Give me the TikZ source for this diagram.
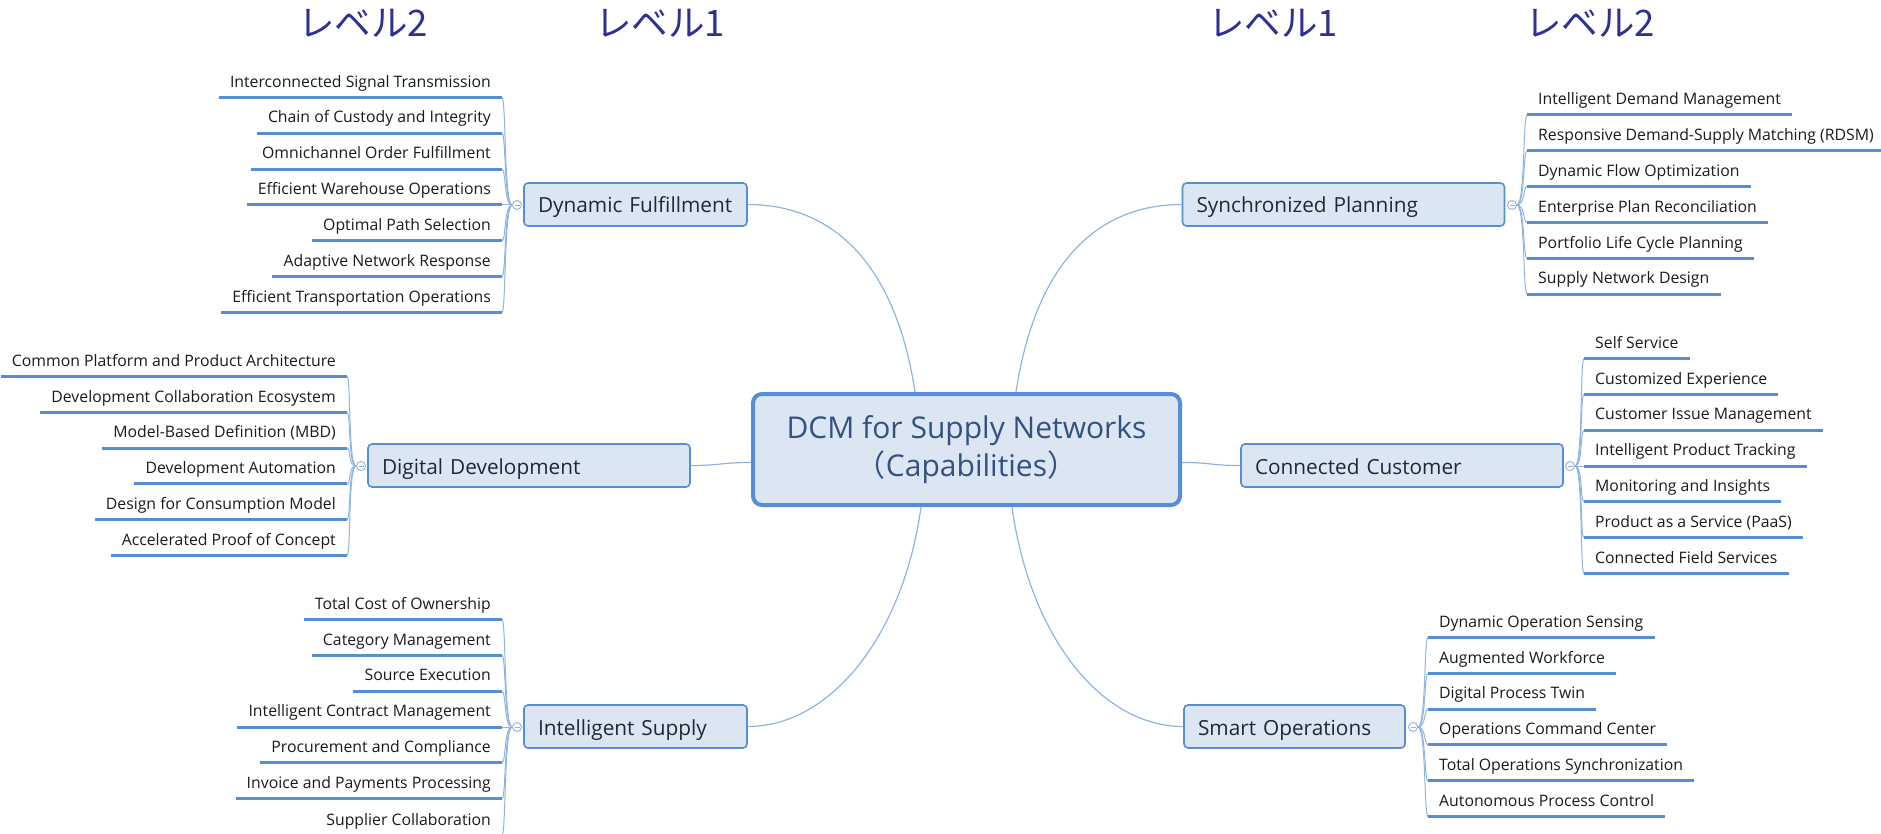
\documentclass[tikz,border=0pt]{standalone}
\usepackage{fontspec}
\setmainfont{Open Sans}
\newfontfamily\cjk{Noto Sans CJK JP}
\usepackage{tikz}
\usepackage{xcolor}

\definecolor{linkblue}{RGB}{141,180,226}
\definecolor{ulblue}{RGB}{85,142,213}
\definecolor{boxfill}{RGB}{220,230,242}
\definecolor{kopfblau}{RGB}{46,49,146}
\definecolor{midtext}{RGB}{52,82,128}
\definecolor{lonetext}{RGB}{30,40,60}
\definecolor{itemtext}{RGB}{26,26,26}

\tikzset{
	uline/.style={draw=ulblue, line width=3pt},
	ast/.style={draw=linkblue, line width=1.2pt},
	fan/.style={draw=linkblue, line width=1pt},
	litem/.style={font=\fontsize{15.8}{19}\selectfont, text=itemtext, inner xsep=11pt, inner ysep=6pt,
		text height=12pt, text depth=4pt, anchor=south east,
		append after command={(\tikzlastnode.south west) edge[uline] (\tikzlastnode.south east)}},
	ritem/.style={litem, anchor=south west},
	knob/.style={circle, draw=linkblue, fill=white, line width=0.9pt, minimum size=9pt, inner sep=0pt,
		path picture={\draw[linkblue, line width=0.7pt] ([xshift=-2.5pt]path picture bounding box.center) -- ([xshift=2.5pt]path picture bounding box.center);}},
	ebene1/.style={draw=ulblue, fill=boxfill, line width=1.6pt, rounded corners=4pt, minimum height=43pt,
		inner xsep=14pt, text width=#1, align=left, text height=19pt, text depth=2pt,
		font=\fontsize{20.8}{24}\selectfont, text=lonetext},
	mitte/.style={draw=ulblue, fill=boxfill, line width=4pt, rounded corners=9pt, minimum width=427pt,
		minimum height=111pt, align=center, font=\fontsize{30}{38}\selectfont, text=midtext},
	kopf/.style={font=\cjk\fontsize{36.5}{36.5}\selectfont, text=kopfblau}
}

\begin{document}
\begin{tikzpicture}[x=1pt, y=-1pt]
	\useasboundingbox (0,0) rectangle (1881,834);
	% ueberschriften
	\node[kopf] (kll2) at (363,23) {レベル2};
	\node[kopf] (kll1) at (660,23) {レベル1};
	\node[kopf] (krl1) at (1273,23) {レベル1};
	\node[kopf] (krl2) at (1590,23) {レベル2};
	% mittelknoten
	\node[mitte] (dcm) at (966.5,449.5) {DCM for Supply Networks\\{\cjk （}Capabilities{\cjk ）}};
	% ebene 1
	\node[ebene1=195pt] (df) at (635.5,204.5) {Dynamic Fulfillment};
	\node[ebene1=294pt] (sp) at (1343.5,204.5) {Synchronized Planning};
	\node[ebene1=294pt] (dd) at (529,465.5) {Digital Development};
	\node[ebene1=294pt] (cc) at (1402,465.5) {Connected Customer};
	\node[ebene1=195pt] (is) at (635.5,726.5) {Intelligent Supply};
	\node[ebene1=193pt] (so) at (1294.5,726.5) {Smart Operations};
	% aeste von der mitte
	\draw[ast] ([xshift=-51.5pt]dcm.north) .. controls +(-20,-132) and +(82,0) .. (df.east);
	\draw[ast] ([xshift=49.5pt]dcm.north) .. controls +(20,-132) and +(-82,0) .. (sp.west);
	\draw[ast] ([yshift=-13pt]dcm.west) .. controls +(-30,0) and +(30,0) .. (dd.east);
	\draw[ast] ([yshift=-13pt]dcm.east) .. controls +(30,0) and +(-30,0) .. (cc.west);
	\draw[ast] ([xshift=-45.5pt]dcm.south) .. controls +(-18,130) and +(82,0) .. (is.east);
	\draw[ast] ([xshift=45.5pt]dcm.south) .. controls +(18,130) and +(-82,0) .. (so.west);
	% knoepfe
	\node[knob] (dfk) at (517,205) {};
	\node[knob] (spk) at (1512,205) {};
	\node[knob] (ddk) at (361,466) {};
	\node[knob] (cck) at (1570,466) {};
	\node[knob] (isk) at (517,727) {};
	\node[knob] (sok) at (1413,727) {};
	% dynamic fulfillment, ebene 2
	\node[litem] (df1) at (502,97.3) {Interconnected Signal Transmission};
	\node[litem] (df2) at (502,133.2) {Chain of Custody and Integrity};
	\node[litem] (df3) at (502,169.1) {Omnichannel Order Fulfillment};
	\node[litem] (df4) at (502,205) {Efficient Warehouse Operations};
	\node[litem] (df5) at (502,240.9) {Optimal Path Selection};
	\node[litem] (df6) at (502,276.8) {Adaptive Network Response};
	\node[litem] (df7) at (502,312.7) {Efficient Transportation Operations};
	\draw[fan] (dfk.west) .. controls +(-8,0) and +(4,0) .. (df1.south east);
	\draw[fan] (dfk.west) .. controls +(-8,0) and +(4,0) .. (df2.south east);
	\draw[fan] (dfk.west) .. controls +(-8,0) and +(4,0) .. (df3.south east);
	\draw[fan] (dfk.west) -- (df4.south east);
	\draw[fan] (dfk.west) .. controls +(-8,0) and +(4,0) .. (df5.south east);
	\draw[fan] (dfk.west) .. controls +(-8,0) and +(4,0) .. (df6.south east);
	\draw[fan] (dfk.west) .. controls +(-8,0) and +(4,0) .. (df7.south east);
	% synchronized planning, ebene 2
	\node[ritem] (sp1) at (1527,114.9) {Intelligent Demand Management};
	\node[ritem] (sp2) at (1527,150.8) {Responsive Demand-Supply Matching (RDSM)};
	\node[ritem] (sp3) at (1527,186.6) {Dynamic Flow Optimization};
	\node[ritem] (sp4) at (1527,222.4) {Enterprise Plan Reconciliation};
	\node[ritem] (sp5) at (1527,258.3) {Portfolio Life Cycle Planning};
	\node[ritem] (sp6) at (1527,294.1) {Supply Network Design};
	\draw[fan] (spk.east) .. controls +(8,0) and +(-4,0) .. (sp1.south west);
	\draw[fan] (spk.east) .. controls +(8,0) and +(-4,0) .. (sp2.south west);
	\draw[fan] (spk.east) .. controls +(8,0) and +(-4,0) .. (sp3.south west);
	\draw[fan] (spk.east) .. controls +(8,0) and +(-4,0) .. (sp4.south west);
	\draw[fan] (spk.east) .. controls +(8,0) and +(-4,0) .. (sp5.south west);
	\draw[fan] (spk.east) .. controls +(8,0) and +(-4,0) .. (sp6.south west);
	% digital development, ebene 2
	\node[litem] (dd1) at (347,376.3) {Common Platform and Product Architecture};
	\node[litem] (dd2) at (347,412.2) {Development Collaboration Ecosystem};
	\node[litem] (dd3) at (347,448.1) {Model-Based Definition (MBD)};
	\node[litem] (dd4) at (347,483.9) {Development Automation};
	\node[litem] (dd5) at (347,519.8) {Design for Consumption Model};
	\node[litem] (dd6) at (347,555.7) {Accelerated Proof of Concept};
	\draw[fan] (ddk.west) .. controls +(-8,0) and +(4,0) .. (dd1.south east);
	\draw[fan] (ddk.west) .. controls +(-8,0) and +(4,0) .. (dd2.south east);
	\draw[fan] (ddk.west) .. controls +(-8,0) and +(4,0) .. (dd3.south east);
	\draw[fan] (ddk.west) .. controls +(-8,0) and +(4,0) .. (dd4.south east);
	\draw[fan] (ddk.west) .. controls +(-8,0) and +(4,0) .. (dd5.south east);
	\draw[fan] (ddk.west) .. controls +(-8,0) and +(4,0) .. (dd6.south east);
	% connected customer, ebene 2
	\node[ritem] (cc1) at (1584,358.3) {Self Service};
	\node[ritem] (cc2) at (1584,394.2) {Customized Experience};
	\node[ritem] (cc3) at (1584,430.1) {Customer Issue Management};
	\node[ritem] (cc4) at (1584,466) {Intelligent Product Tracking};
	\node[ritem] (cc5) at (1584,501.9) {Monitoring and Insights};
	\node[ritem] (cc6) at (1584,537.8) {Product as a Service (PaaS)};
	\node[ritem] (cc7) at (1584,573.7) {Connected Field Services};
	\draw[fan] (cck.east) .. controls +(8,0) and +(-4,0) .. (cc1.south west);
	\draw[fan] (cck.east) .. controls +(8,0) and +(-4,0) .. (cc2.south west);
	\draw[fan] (cck.east) .. controls +(8,0) and +(-4,0) .. (cc3.south west);
	\draw[fan] (cck.east) -- (cc4.south west);
	\draw[fan] (cck.east) .. controls +(8,0) and +(-4,0) .. (cc5.south west);
	\draw[fan] (cck.east) .. controls +(8,0) and +(-4,0) .. (cc6.south west);
	\draw[fan] (cck.east) .. controls +(8,0) and +(-4,0) .. (cc7.south west);
	% intelligent supply, ebene 2
	\node[litem] (is1) at (502,619.3) {Total Cost of Ownership};
	\node[litem] (is2) at (502,655.2) {Category Management};
	\node[litem] (is3) at (502,691.1) {Source Execution};
	\node[litem] (is4) at (502,727) {Intelligent Contract Management};
	\node[litem] (is5) at (502,762.9) {Procurement and Compliance};
	\node[litem] (is6) at (502,798.8) {Invoice and Payments Processing};
	\node[litem] (is7) at (502,835.5) {Supplier Collaboration};
	\draw[fan] (isk.west) .. controls +(-8,0) and +(4,0) .. (is1.south east);
	\draw[fan] (isk.west) .. controls +(-8,0) and +(4,0) .. (is2.south east);
	\draw[fan] (isk.west) .. controls +(-8,0) and +(4,0) .. (is3.south east);
	\draw[fan] (isk.west) -- (is4.south east);
	\draw[fan] (isk.west) .. controls +(-8,0) and +(4,0) .. (is5.south east);
	\draw[fan] (isk.west) .. controls +(-8,0) and +(4,0) .. (is6.south east);
	\draw[fan] (isk.west) .. controls +(-8,0) and +(4,0) .. (is7.south east);
	% smart operations, ebene 2
	\node[ritem] (so1) at (1428,637.3) {Dynamic Operation Sensing};
	\node[ritem] (so2) at (1428,673.2) {Augmented Workforce};
	\node[ritem] (so3) at (1428,709.1) {Digital Process Twin};
	\node[ritem] (so4) at (1428,744.9) {Operations Command Center};
	\node[ritem] (so5) at (1428,780.8) {Total Operations Synchronization};
	\node[ritem] (so6) at (1428,816.7) {Autonomous Process Control};
	\draw[fan] (sok.east) .. controls +(8,0) and +(-4,0) .. (so1.south west);
	\draw[fan] (sok.east) .. controls +(8,0) and +(-4,0) .. (so2.south west);
	\draw[fan] (sok.east) .. controls +(8,0) and +(-4,0) .. (so3.south west);
	\draw[fan] (sok.east) .. controls +(8,0) and +(-4,0) .. (so4.south west);
	\draw[fan] (sok.east) .. controls +(8,0) and +(-4,0) .. (so5.south west);
	\draw[fan] (sok.east) .. controls +(8,0) and +(-4,0) .. (so6.south west);
\end{tikzpicture}
\end{document}
